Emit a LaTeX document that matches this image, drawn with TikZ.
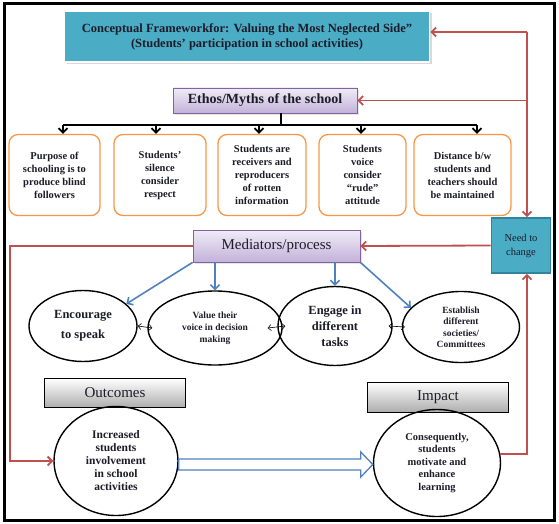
\documentclass[tikz,border=0pt]{standalone}
\usepackage{fontspec}
\setmainfont{Liberation Serif}
\usetikzlibrary{arrows.meta,shapes.geometric,shadows,calc}
\definecolor{titleblue}{HTML}{4BACC6}
\definecolor{titleedge}{HTML}{31849B}
\definecolor{lilac}{HTML}{F0ECF6}
\definecolor{lilacdark}{HTML}{C3B1DA}
\definecolor{lilacedge}{HTML}{8064A2}
\definecolor{mythedge}{HTML}{F79646}
\definecolor{loopred}{HTML}{C0504D}
\definecolor{medblue}{HTML}{4F81BD}
\definecolor{textdark}{HTML}{1C1C28}
\tikzset{
  barb/.style={-{Straight Barb[length=4.5pt,width=9pt]}},
  titlebox/.style={draw=white, line width=1.5pt, fill=titleblue, drop shadow={opacity=0.3},
    minimum width=365pt, minimum height=51pt, align=center, font=\fontsize{12.5}{15}\selectfont\bfseries},
  lilacbox/.style={draw=lilacedge, line width=0.8pt, top color=lilac, bottom color=lilacdark,
    drop shadow={opacity=0.2}, align=center},
  mythbox/.style={draw=mythedge, line width=1.3pt, rounded corners=9pt, minimum height=81pt,
    align=center, inner sep=1pt, font=\fontsize{10.5}{13}\selectfont\bfseries},
  graybox/.style={draw=black, line width=0.8pt, top color=white, bottom color=black!32,
    minimum width=141pt, font=\fontsize{15}{17}\selectfont},
  oval/.style={draw=black, line width=1.4pt, ellipse, inner sep=0pt, align=center},
  redline/.style={draw=loopred, line width=1.8pt},
  blueline/.style={draw=medblue, line width=1.6pt, barb},
  dblarrow/.style={line width=0.6pt, {Straight Barb[length=3pt,width=6pt]}-{Straight Barb[length=3pt,width=6pt]}}
}
\begin{document}
\begin{tikzpicture}[x=1pt, y=-1pt, text=textdark]
  \useasboundingbox (0,0) rectangle (559,524);
  \draw[line width=3pt] (4,4) rectangle (554,520);

  % top of the framework
  \node[titlebox] (title) at (247,36.5) {Conceptual Frameworkfor: Valuing the Most Neglected Side”\\(Students’ participation in school activities)};
  \node[lilacbox, minimum width=184pt, minimum height=25pt, font=\fontsize{14}{16}\selectfont\bfseries] (ethos) at (265,100.5) {Ethos/Myths of the school};

  % the five myths
  \coordinate (hub) at (281,125);
  \draw[line width=1.8pt] (ethos.south -| hub) -- (hub);
  \draw[line width=1.8pt] (63,0 |- hub) -- (477,0 |- hub);
  \foreach \i/\cx/\w/\ax/\txt in {1/54.5/91/63/{Purpose of\\schooling is to\\produce blind\\followers},
      2/160/92/156/{Students’\\silence\\consider\\respect},
      3/262/88/259/{Students are\\receivers and\\reproducers\\of rotten\\information},
      4/362.5/87/361/{Students\\voice\\consider\\“rude”\\attitude},
      5/462.5/97/477/{Distance b/w\\students and\\teachers should\\be maintained}}{
    \node[mythbox, minimum width=\w pt] (myth\i) at (\cx,175) {\txt};
    \draw[line width=1.8pt, barb] (\ax,0 |- hub) -- (\ax,0 |- myth\i.north);
  }

  % process
  \node[draw=titleedge, line width=1.8pt, fill=titleblue, minimum width=59pt, minimum height=55pt,
    align=center, font=\fontsize{10.5}{14}\selectfont] (need) at (521,245.5) {Need to\\change};
  \node[lilacbox, minimum width=167pt, minimum height=32pt, font=\fontsize{15}{17}\selectfont] (med) at (276.5,246) {Mediators/process};

  \node[oval, minimum width=108pt, minimum height=71pt, font=\fontsize{12.5}{20}\selectfont\bfseries] (enc) at (83,326) {Encourage\\to speak};
  \node[oval, minimum width=134pt, minimum height=74pt, font=\fontsize{9.5}{12}\selectfont\bfseries] (val) at (215,328) {Value their\\voice in decision\\making};
  \node[oval, minimum width=114pt, minimum height=79pt, font=\fontsize{12.5}{16}\selectfont\bfseries] (eng) at (335,326) {Engage in\\different\\tasks};
  \node[oval, minimum width=117pt, minimum height=71pt, font=\fontsize{9.5}{11.5}\selectfont\bfseries] (est) at (461,327) {Establish\\different\\societies/\\Committees};

  \draw[blueline] (med.south west) -- (enc.27);
  \draw[blueline] (val.north |- med.south) -- (val.north);
  \draw[blueline] (eng.north |- med.south) -- (eng.north);
  \draw[blueline] (med.south east) -- (est.159);
  \draw[dblarrow] (enc.east) -- ([xshift=5pt]val.west);
  \draw[dblarrow] ([xshift=-15pt]val.east) -- ([xshift=8pt]eng.west);
  \draw[dblarrow] ([xshift=-4pt]eng.east) -- ([xshift=3pt]est.west);

  % outcomes and impact
  \node[graybox, minimum height=29pt] (outc) at (115,393) {Outcomes};
  \node[graybox, minimum height=30pt] (impact) at (438,397) {Impact};
  \node[oval, minimum width=124pt, minimum height=109pt, font=\fontsize{11.5}{13}\selectfont\bfseries] (incr) at (116,461) {Increased\\students\\involvement\\in school\\activities};
  \node[oval, minimum width=127pt, minimum height=107pt, font=\fontsize{10.5}{12.5}\selectfont\bfseries] (conseq) at (437,463) {Consequently,\\students\\motivate and\\enhance\\learning};

  \draw[draw=medblue, line width=1.3pt, fill=white] let \p1=(incr.east), \p2=(conseq.west) in
    (\x1,\y1+2) -- (\x2-12,\y1+2) -- (\x2-12,\y1+9) -- (\x2,\y1-3.5) -- (\x2-12,\y1-16)
    -- (\x2-12,\y1-9) -- (\x1,\y1-9) -- cycle;

  % feedback loop
  \coordinate (rtop) at (527,32);
  \coordinate (rleft) at (10,400);
  \draw[redline, barb] (rtop) -- (title.east |- rtop);
  \draw[redline, barb] (rtop |- ethos.east) -- (ethos.east);
  \draw[redline, barb] (rtop) -- (rtop |- need.north);
  \draw[redline, barb] (need.west) -- (med.east);
  \draw[redline, barb] (med.west) -| (rleft) |- (incr.west);
  \draw[redline, barb] (conseq.8) -| (rtop |- need.south);
\end{tikzpicture}
\end{document}
